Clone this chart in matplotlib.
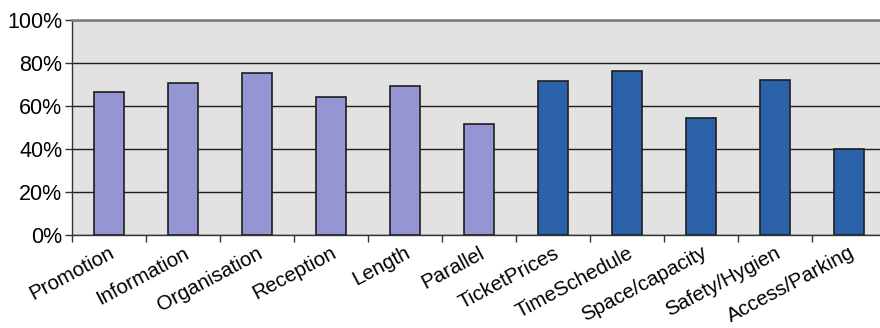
import matplotlib
matplotlib.use("Agg")
import matplotlib.pyplot as plt
from matplotlib.ticker import FuncFormatter

plt.rcParams['font.family'] = ['Liberation Sans', 'DejaVu Sans']

categories = ["Promotion", "Information", "Organisation", "Reception", "Length",
              "Parallel", "TicketPrices", "TimeSchedule", "Space/capacity",
              "Safety/Hygien", "Access/Parking"]
values = [66.5, 70.5, 75.5, 64.3, 69.3, 51.6, 71.8, 76.4, 54.4, 72.0, 40.1]
groups = ["event"] * 6 + ["venue"] * 5
group_colors = {"event": "#9595D3", "venue": "#2B62AA"}
yticks = [0, 20, 40, 60, 80, 100]

W, H = 880, 328
fig = plt.figure(figsize=(W / 100, H / 100), dpi=100)
left, right, top, bottom = 72, 886, 20, 235
ax = fig.add_axes([left / W, (H - bottom) / H, (right - left) / W, (bottom - top) / H])
ax.set_facecolor("#E2E2E2")

x = list(range(len(categories)))
ax.bar(x, values, width=0.41, color=[group_colors[g] for g in groups],
       edgecolor="#1E1E1E", linewidth=1.2, zorder=3)

ax.set_xlim(-0.5, len(categories) - 0.5)
ax.set_ylim(0, 100)
ax.set_yticks(yticks)
ax.yaxis.set_major_formatter(FuncFormatter(lambda v, p: f"{v:.0f}%"))
ax.yaxis.grid(True, color="#1E1E1E", linewidth=1.0, zorder=1)

# ticks sit on category boundaries, labels under bar centres
ax.set_xticks([i - 0.5 for i in x])
ax.set_xticklabels([])
ax.set_xticks(x, minor=True)
ax.set_xticklabels(categories, minor=True, rotation=28, ha="right",
                   rotation_mode="anchor", fontsize=14.8)
ax.tick_params(axis="x", which="minor", length=0, pad=6)
ax.tick_params(axis="x", which="major", length=5, width=1, color="#333333")
ax.tick_params(axis="y", length=5, width=1, color="#333333", labelsize=15.5, pad=2)

for s in ["left", "bottom"]:
    ax.spines[s].set_color("#333333")
    ax.spines[s].set_linewidth(1.0)
ax.spines["top"].set_color("#7A7A7A")
ax.spines["top"].set_linewidth(1.8)
ax.spines["right"].set_visible(False)

fig.savefig("out.png", dpi=100)
